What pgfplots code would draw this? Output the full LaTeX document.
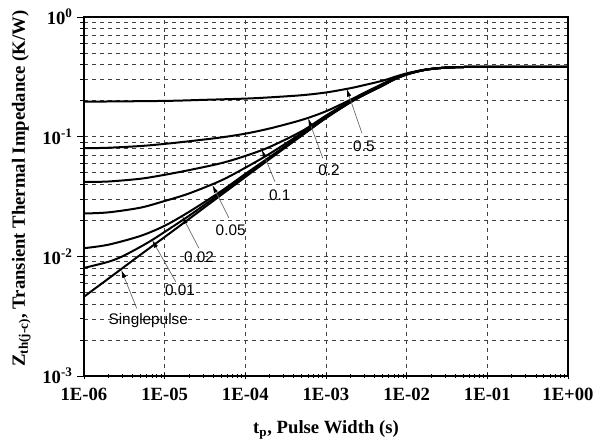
\documentclass[border=0pt]{standalone}
\usepackage{fontspec}
\setmainfont{Liberation Serif}
\newfontfamily\arial{Liberation Sans}
\usepackage{pgfplots}
\pgfplotsset{compat=1.18}
\usetikzlibrary{arrows.meta,calc}
\begin{document}
\begin{tikzpicture}
\begin{axis}[name=ax,
  xmode=log, ymode=log,
  scale only axis, width=363pt, height=269.25pt,
  xmin=1e-6, xmax=1, ymin=1e-3, ymax=1,
  xtick={1e-6,1e-5,1e-4,1e-3,1e-2,1e-1,1},
  xticklabels={1E-06,1E-05,1E-04,1E-03,1E-02,1E-01,1E+00},
  ytick={1e-3,1e-2,1e-1,1},
  yticklabels={\textbf{10}\textsuperscript{\textbf{-3}},\textbf{10}\textsuperscript{\textbf{-2}},\textbf{10}\textsuperscript{\textbf{-1}},\textbf{10}\textsuperscript{\textbf{0}}},
  ticklabel style={font=\fontsize{14}{16}\selectfont\bfseries},
  xticklabel style={yshift=-3pt},
  tick pos=left,
  x tick style={black, line width=0.6pt},
  y tick style={black, line width=0.6pt},
  xtick align=center, ytick align=outside,
  major tick length=5pt, minor tick length=3pt,
  xmajorgrids, ymajorgrids, yminorgrids,
  major grid style={black!75, dashed, line width=0.5pt},
  minor grid style={black!75, dashed, line width=0.5pt},
  axis line style={black, line width=1pt},
  xlabel={\textbf{t\textsubscript{p}, Pulse Width (s)}},
  ylabel={\textbf{Z\textsubscript{th(j-c)}, Transient Thermal Impedance (K/W)}},
  label style={font=\fontsize{14}{16}\selectfont},
  xlabel style={yshift=-8pt},
  ylabel style={yshift=2pt, xshift=6pt},
  every axis plot post/.style={black, solid, line width=1.5pt, smooth, mark=none},
]
% Single pulse
\addplot coordinates {(1e-6,0.0046) (2e-6,0.0065) (5e-6,0.0103) (1e-5,0.0145) (2e-5,0.0205) (5e-5,0.0325) (1e-4,0.046) (2e-4,0.065) (5e-4,0.102) (1e-3,0.143) (2e-3,0.193) (3e-3,0.224) (5e-3,0.266) (7e-3,0.300) (1e-2,0.330) (1.5e-2,0.355) (2e-2,0.367) (3e-2,0.377) (5e-2,0.382) (1e-1,0.383) (1,0.383)};
% D = 0.01
\addplot coordinates {(1e-6,0.0080) (2e-6,0.0090) (3e-6,0.0100) (5e-6,0.0120) (7e-6,0.0137) (1e-5,0.0160) (2e-5,0.0218) (5e-5,0.0338) (1e-4,0.0475) (2e-4,0.0665) (5e-4,0.103) (1e-3,0.144) (2e-3,0.194) (3e-3,0.225) (5e-3,0.267) (7e-3,0.301) (1e-2,0.331) (1.5e-2,0.356) (2e-2,0.368) (3e-2,0.377) (5e-2,0.382) (1e-1,0.383) (1,0.383)};
% D = 0.02
\addplot coordinates {(1e-6,0.0117) (2e-6,0.0125) (5e-6,0.0148) (1e-5,0.0180) (2e-5,0.0235) (5e-5,0.0350) (1e-4,0.0488) (2e-4,0.0675) (5e-4,0.104) (1e-3,0.145) (2e-3,0.195) (3e-3,0.226) (5e-3,0.268) (7e-3,0.302) (1e-2,0.332) (1.5e-2,0.356) (2e-2,0.368) (3e-2,0.377) (5e-2,0.382) (1e-1,0.383) (1,0.383)};
% D = 0.05
\addplot coordinates {(1e-6,0.0228) (2e-6,0.0233) (5e-6,0.0255) (1e-5,0.0290) (2e-5,0.0335) (5e-5,0.0430) (1e-4,0.0550) (2e-4,0.0720) (5e-4,0.107) (1e-3,0.147) (2e-3,0.197) (3e-3,0.228) (5e-3,0.270) (7e-3,0.303) (1e-2,0.333) (1.5e-2,0.357) (2e-2,0.368) (3e-2,0.377) (5e-2,0.382) (1e-1,0.383) (1,0.383)};
% D = 0.1
\addplot coordinates {(1e-6,0.0418) (2e-6,0.0422) (5e-6,0.0445) (1e-5,0.0480) (2e-5,0.0525) (5e-5,0.0600) (1e-4,0.0690) (2e-4,0.0820) (5e-4,0.111) (1e-3,0.150) (2e-3,0.199) (3e-3,0.230) (5e-3,0.272) (7e-3,0.305) (1e-2,0.334) (1.5e-2,0.357) (2e-2,0.368) (3e-2,0.377) (5e-2,0.382) (1e-1,0.383) (1,0.383)};
% D = 0.2
\addplot coordinates {(1e-6,0.0800) (2e-6,0.0808) (5e-6,0.0835) (1e-5,0.0870) (2e-5,0.0915) (5e-5,0.0985) (1e-4,0.1060) (2e-4,0.117) (5e-4,0.138) (1e-3,0.163) (2e-3,0.203) (3e-3,0.233) (5e-3,0.276) (7e-3,0.307) (1e-2,0.335) (1.5e-2,0.357) (2e-2,0.368) (3e-2,0.377) (5e-2,0.382) (1e-1,0.383) (1,0.383)};
% D = 0.5
\addplot coordinates {(1e-6,0.196) (1e-5,0.199) (3e-5,0.203) (1e-4,0.208) (2e-4,0.213) (5e-4,0.222) (1e-3,0.234) (2e-3,0.254) (3e-3,0.270) (5e-3,0.293) (7e-3,0.315) (1e-2,0.338) (1.5e-2,0.358) (2e-2,0.369) (3e-2,0.378) (5e-2,0.382) (1e-1,0.383) (1,0.383)};
% annotations
\tikzset{ann/.style={draw=black!60, line width=0.5pt, -{Latex[length=6pt,width=3.2pt,black]}}}
\draw[ann] (axis cs:2.79e-3,0.107) -- (axis cs:1.8e-3,0.252);
\draw[ann] (axis cs:9.1e-4,0.0663) -- (axis cs:6e-4,0.143);
\draw[ann] (axis cs:2.33e-4,0.042) -- (axis cs:1.6e-4,0.078);
\draw[ann] (axis cs:6.26e-5,0.0209) -- (axis cs:3.9e-5,0.0395);
\draw[ann] (axis cs:2.66e-5,0.01167) -- (axis cs:1.65e-5,0.0217);
\draw[ann] (axis cs:1.37e-5,0.00614) -- (axis cs:7e-6,0.0137);
\draw[ann] (axis cs:4.5e-6,0.00368) -- (axis cs:2.9e-6,0.0077);
\tikzset{lab/.style={font=\arial\fontsize{11.5}{13}\selectfont, inner sep=0pt}}
\node[lab] at (axis cs:2.95e-3,0.0835) {0.5};
\node[lab] at (axis cs:1.09e-3,0.0526) {0.2};
\node[lab] at (axis cs:2.68e-4,0.0325) {0.1};
\node[lab] at (axis cs:6.58e-5,0.0166) {0.05};
\node[lab] at (axis cs:2.66e-5,0.00982) {0.02};
\node[lab] at (axis cs:1.55e-5,0.00523) {0.01};
\node[lab] at (axis cs:6.26e-6,0.0029) {Singlepulse};
\end{axis}
\pgfresetboundingbox
\path ($(ax.south west)+(-63pt,-52.5pt)$) rectangle ($(ax.north east)+(28.5pt,12.75pt)$);
\end{tikzpicture}
\end{document}
